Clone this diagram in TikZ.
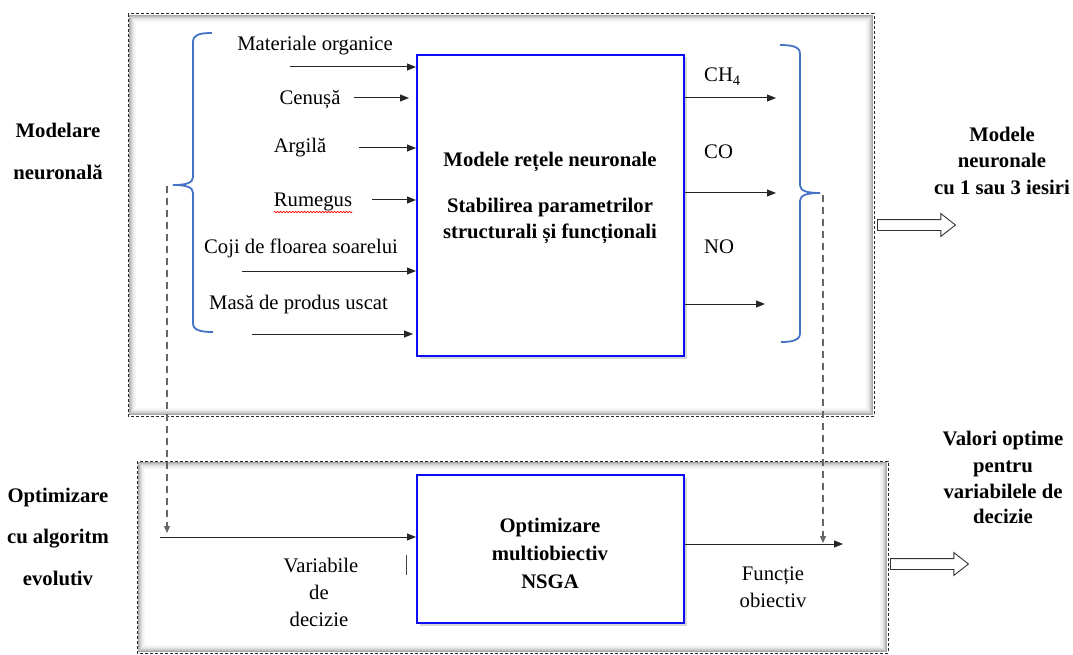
\documentclass[tikz,border=0pt]{standalone}
\usepackage{fontspec}
\setmainfont{Liberation Serif}
\usetikzlibrary{arrows.meta,shapes.arrows,shadows,decorations.pathmorphing}
\definecolor{bracecol}{RGB}{68,114,196}
\definecolor{boxblue}{RGB}{12,12,245}
% soft shading just inside a frame
\newcommand\innershade[4]{%
  \foreach \d/\c in {1.5/34,2.5/26,3.5/19,4.5/13,5.5/8,6.5/5,7.5/3}{%
    \draw[black!\c, line width=1.1pt] (#1+\d,#2+\d) rectangle (#3-\d,#4-\d);}}
\begin{document}
\begin{tikzpicture}[x=1pt,y=-1pt,
  txt/.style={font=\fontsize{20.7}{24}\selectfont, inner sep=0pt, anchor=base},
  hd/.style={txt, font=\fontsize{20.7}{24}\selectfont\bfseries},
  frame/.style={draw=black!85, line width=1pt, dash pattern=on 3pt off 2pt},
  bluebox/.style={draw=boxblue, line width=2pt, fill=white,
    drop shadow={shadow xshift=2.5pt, shadow yshift=-2.5pt, opacity=0.3}},
  brace/.style={draw=bracecol, line width=1.8pt},
  arr/.style={draw=black!85, line width=1pt, -{Triangle[length=9pt,width=7pt]}},
  guide/.style={draw=black!60, line width=1.2pt, dash pattern=on 7pt off 5pt,
    -{Triangle[length=7pt,width=6pt]}},
  hollow/.style={single arrow, draw=black!80, fill=white, line width=0.9pt,
    minimum height=78pt, inner sep=5pt, single arrow head extend=6pt,
    single arrow tip angle=76, anchor=tail}
]
\useasboundingbox (0,0) rectangle (1073,655);
\fill[white] (0,0) rectangle (1073,655);

% ---------- frames ----------
\innershade{128}{14}{874}{416}
\draw[frame] (128,14) rectangle (874,416);
\innershade{137}{461}{888}{653}
\draw[frame] (137,461) rectangle (888,653);

% ---------- side labels ----------
\node[hd] (m1) at (58,138) {Modelare};
\node[hd] (m2) at (58,180) {neuronală};
\node[hd] (o1) at (58,502) {Optimizare};
\node[hd] (o2) at (58,543) {cu algoritm};
\node[hd] (o3) at (58,585) {evolutiv};

\node[hd] (r1) at (1002,142) {Modele};
\node[hd] (r2) at (1002,168) {neuronale};
\node[hd] (r3) at (1002,195) {cu 1 sau 3 iesiri};
\node[hd] (v1) at (1003,445) {Valori optime};
\node[hd] (v2) at (1003,472) {pentru};
\node[hd] (v3) at (1003,498) {variabilele de};
\node[hd] (v4) at (1003,523) {decizie};

\node[hollow] (ha1) at (877,225) {};
\node[hollow] (ha2) at (890,564) {};

% ---------- neural network block ----------
\node[bluebox, minimum width=267pt, minimum height=301pt] (nn) at (550.5,205.5) {};
\node[hd] (nt1) at (550,167) {Modele rețele neuronale};
\node[hd] (nt2) at (550,212) {Stabilirea parametrilor};
\node[hd] (nt3) at (550,238) {structurali și funcționali};

% inputs
\node[txt] (i1) at (315,51) {Materiale organice};
\node[txt] (i2) at (310,105) {Cenușă};
\node[txt] (i3) at (300,153) {Argilă};
\node[txt] (i4) at (313,207) {Rumegus};
\node[txt] (i5) at (301,253) {Coji de floarea soarelui};
\node[txt] (i6) at (298.5,309) {Masă de produs uscat};
\draw[red, line width=0.6pt, decorate,
  decoration={snake, amplitude=0.8pt, segment length=3pt}]
  ([yshift=-5pt]i4.base west) -- ([yshift=-5pt]i4.base east);

\coordinate (a1) at (290,67);
\coordinate (a2) at (354,98);
\coordinate (a3) at (359,148);
\coordinate (a4) at (372,200);
\coordinate (a5) at (242,271);
\coordinate (a6) at (252,334);
\draw[arr] (a1) -- (a1 -| nn.west);
\draw[arr, shorten >=7pt] (a2) -- (a2 -| nn.west);
\draw[arr] (a3) -- (a3 -| nn.west);
\draw[arr] (a4) -- (a4 -| nn.west);
\draw[arr] (a5) -- (a5 -| nn.west);
\draw[arr, shorten >=3pt] (a6) -- (a6 -| nn.west);

% outputs
\node[txt, anchor=base west] (g1) at (704,82) {CH\textsubscript{4}};
\node[txt, anchor=base west] (g2) at (704,159) {CO};
\node[txt, anchor=base west] (g3) at (704,253) {NO};
\coordinate (b1) at (776,98);
\coordinate (b2) at (776,193);
\coordinate (b3) at (765,304);
\draw[arr] (nn.east |- b1) -- (b1);
\draw[arr] (nn.east |- b2) -- (b2);
\draw[arr] (nn.east |- b3) -- (b3);

% braces
\draw[brace] (212,33) .. controls (199,33) and (193,35) .. (193,42)
  -- (193,177) .. controls (193,183) and (186,185) .. (173,185)
  .. controls (186,185) and (193,187) .. (193,193)
  -- (193,323) .. controls (193,330) and (200,332) .. (213,332);
\draw[brace] (780,45) .. controls (793,45) and (800,47) .. (800,54)
  -- (800,185) .. controls (800,191) and (807,193) .. (820,193)
  .. controls (807,193) and (800,195) .. (800,201)
  -- (800,333) .. controls (800,340) and (793,342) .. (781,342);

% ---------- optimisation block ----------
\node[bluebox, minimum width=267pt, minimum height=148pt] (opt) at (550.5,549) {};
\node[hd] (ot1) at (550,532) {Optimizare};
\node[hd] (ot2) at (550,560) {multiobiectiv};
\node[hd] (ot3) at (550,588) {NSGA};

\coordinate (vin) at (160,537);
\coordinate (fout) at (843,544);
\draw[arr] (vin) -- (vin -| opt.west);
\draw[arr] (opt.east |- fout) -- (fout);

\node[txt] (d1) at (321,572) {Variabile};
\node[txt] (d2) at (319,599) {de};
\node[txt] (d3) at (319,626) {decizie};
\coordinate (tk1) at (406,555);
\coordinate (tk2) at (406,575);
\draw[black!75, line width=1pt] (tk1) -- (tk2);

\node[txt] (f1) at (773,580) {Funcție};
\node[txt] (f2) at (773,607) {obiectiv};

% dashed links from the braces
\coordinate (ls) at (167,186);
\coordinate (le) at (167,533);
\coordinate (rs) at (823,195);
\coordinate (re) at (823,543);
\draw[guide] (ls) -- (le);
\draw[guide] (rs) -- (re);
\end{tikzpicture}
\end{document}
